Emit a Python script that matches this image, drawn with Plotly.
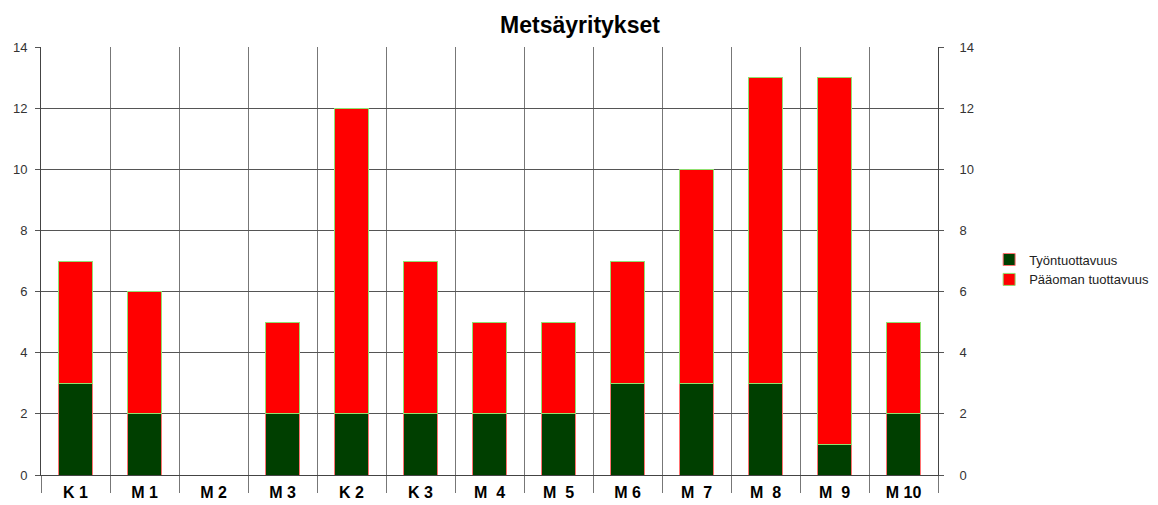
import plotly.graph_objects as go

categories = ["K 1", "M 1", "M 2", "M 3", "K 2", "K 3", "M\u00a0 4", "M\u00a0 5",
              "M 6", "M\u00a0 7", "M\u00a0 8", "M\u00a0 9", "M 10"]
tyontuottavuus = [3, 2, 0, 2, 2, 2, 2, 2, 3, 3, 3, 1, 2]
paaoman_tuottavuus = [4, 4, 0, 3, 10, 5, 3, 3, 4, 7, 10, 12, 3]
totals = [a + b for a, b in zip(tyontuottavuus, paaoman_tuottavuus)]
y_ticks = [0, 2, 4, 6, 8, 10, 12, 14]

fig = go.Figure()
fig.add_trace(go.Bar(x=categories, y=tyontuottavuus, name="Työntuottavuus",
                     marker=dict(color="#003f00", line=dict(color="#ff7070", width=1)),
                     width=0.5))
fig.add_trace(go.Bar(x=categories, y=paaoman_tuottavuus, name="Pääoman tuottavuus",
                     marker=dict(color="#ff0000", line=dict(color="#90e070", width=1)),
                     width=0.5))
fig.add_trace(go.Scatter(x=categories, y=totals, yaxis="y2", mode="markers",
                         marker=dict(opacity=0), showlegend=False, hoverinfo="skip"))

fig.update_layout(
    barmode="stack",
    width=1150, height=497,
    margin=dict(l=33, r=220, t=39, b=30, autoexpand=False),
    paper_bgcolor="white", plot_bgcolor="white",
    font=dict(family="Liberation Sans, Arial", color="#222"),
    title=dict(text="<b>Metsäyritykset</b>", x=572 / 1150, xref="container", xanchor="center",
               y=1 - 17 / 497, yref="container", yanchor="middle",
               font=dict(size=23, color="black")),
    xaxis=dict(range=[-0.5, len(categories) - 0.5], automargin=False,
               tickson="boundaries", showgrid=True, gridcolor="#777", gridwidth=1,
               ticks="outside", ticklen=17, tickcolor="#777",
               tickfont=dict(size=16, color="black", family="Liberation Sans, Arial",
                             weight="bold"),
               ticklabelstandoff=3,
               showline=True, linecolor="#444", linewidth=1, zeroline=False),
    yaxis=dict(range=[0, 14], tickvals=y_ticks, showgrid=True, gridcolor="#555",
               automargin=False,
               ticks="outside", ticklen=5, tickcolor="#555",
               tickfont=dict(size=13, color="#333"), ticklabelstandoff=5,
               showline=True, linecolor="#444", linewidth=1, zeroline=False),
    yaxis2=dict(range=[0, 14], tickvals=y_ticks, overlaying="y", side="right",
                automargin=False,
                showgrid=False, ticks="outside", ticklen=5, tickcolor="#555",
                tickfont=dict(size=13, color="#333"), ticklabelstandoff=13,
                showline=True, linecolor="#444", linewidth=1, zeroline=False),
    legend=dict(x=1.057, y=0.48, xanchor="left", yanchor="middle",
                font=dict(size=13, color="#222"), traceorder="normal",
                itemwidth=30),
    bargap=0.5,
)

fig.write_html("out.html")
